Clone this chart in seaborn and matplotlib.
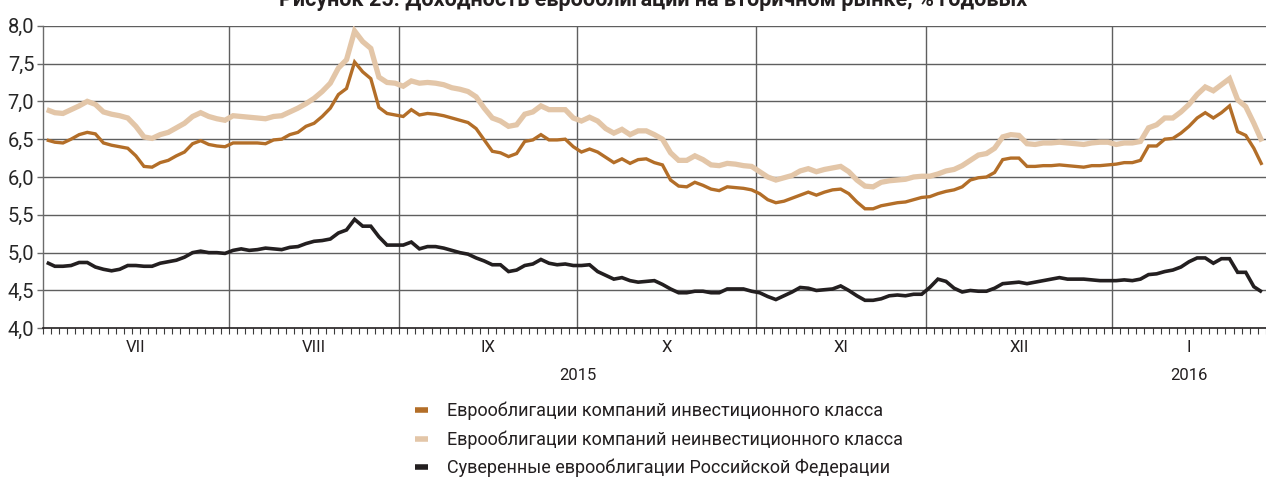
import numpy as np
import pandas as pd
import matplotlib
matplotlib.use("Agg")
import matplotlib.pyplot as plt
import matplotlib.transforms as mtransforms
from matplotlib import font_manager
import seaborn as sns

# ---------------- data ----------------
title = "Рисунок 25. Доходность еврооблигаций на вторичном рынке, % годовых"
series_names = [
    "Еврооблигации компаний инвестиционного класса",
    "Еврооблигации компаний неинвестиционного класса",
    "Суверенные еврооблигации Российской Федерации",
]
month_labels = ["VII", "VIII", "IX", "X", "XI", "XII", "I"]
month_days = [23, 21, 22, 22, 21, 23, 19]   # trading days shown per month
year_labels = ["2015", "2016"]
year_months = [6, 1]                          # number of months in each year group
ytick_values = [4.0, 4.5, 5.0, 5.5, 6.0, 6.5, 7.0, 7.5, 8.0]
ytick_labels = ["4,0", "4,5", "5,0", "5,5", "6,0", "6,5", "7,0", "7,5", "8,0"]

invest = [
    6.49, 6.46, 6.45, 6.50, 6.56, 6.59, 6.57, 6.45, 6.42, 6.40, 6.38, 6.28, 6.14, 6.13, 6.19, 6.22,
    6.28, 6.33, 6.44, 6.48, 6.43, 6.41, 6.40, 6.45, 6.45, 6.45, 6.45, 6.44, 6.49, 6.50, 6.56, 6.59,
    6.67, 6.71, 6.80, 6.91, 7.09, 7.17, 7.52, 7.39, 7.30, 6.92, 6.84, 6.82, 6.80, 6.89, 6.82,
    6.84, 6.83, 6.81, 6.78, 6.75, 6.72, 6.64, 6.49, 6.34, 6.32, 6.27, 6.31, 6.47, 6.49, 6.56, 6.49,
    6.49, 6.50, 6.40, 6.33, 6.37, 6.33, 6.26, 6.19, 6.24, 6.18, 6.23, 6.24, 6.19, 6.16, 5.96, 5.88,
    5.87, 5.93, 5.89, 5.84, 5.82, 5.87, 5.86, 5.85, 5.83, 5.78, 5.70, 5.66, 5.68, 5.72, 5.76,
    5.80, 5.76, 5.80, 5.83, 5.84, 5.78, 5.67, 5.58, 5.58, 5.62, 5.64, 5.66, 5.67, 5.70, 5.73, 5.74,
    5.78, 5.81, 5.83, 5.87, 5.96, 5.99, 6.00, 6.06, 6.23, 6.25, 6.25, 6.14, 6.14, 6.15, 6.15, 6.16,
    6.15, 6.14, 6.13, 6.15, 6.15, 6.16, 6.17, 6.19, 6.19, 6.22, 6.41, 6.41, 6.50, 6.51, 6.58, 6.67,
    6.78, 6.85, 6.78, 6.85, 6.94, 6.60, 6.55, 6.38, 6.16,
]
noninvest = [
    6.89, 6.85, 6.84, 6.89, 6.94, 7.00, 6.96, 6.86, 6.83, 6.81, 6.78, 6.67, 6.53, 6.51, 6.56, 6.59,
    6.65, 6.71, 6.80, 6.85, 6.80, 6.77, 6.75, 6.81, 6.80, 6.79, 6.78, 6.77, 6.80, 6.81, 6.86, 6.91,
    6.97, 7.04, 7.13, 7.24, 7.44, 7.55, 7.93, 7.79, 7.70, 7.32, 7.25, 7.24, 7.20, 7.27, 7.24,
    7.25, 7.24, 7.22, 7.18, 7.16, 7.13, 7.06, 6.91, 6.78, 6.74, 6.67, 6.69, 6.83, 6.86, 6.94, 6.89,
    6.89, 6.89, 6.78, 6.74, 6.79, 6.74, 6.64, 6.58, 6.63, 6.56, 6.61, 6.61, 6.56, 6.50, 6.32, 6.22,
    6.22, 6.28, 6.23, 6.16, 6.15, 6.18, 6.17, 6.15, 6.14, 6.07, 6.00, 5.96, 5.99, 6.02, 6.08,
    6.11, 6.07, 6.10, 6.12, 6.14, 6.07, 5.96, 5.88, 5.87, 5.93, 5.95, 5.96, 5.97, 6.00, 6.01, 6.01,
    6.04, 6.08, 6.10, 6.15, 6.22, 6.29, 6.31, 6.38, 6.53, 6.56, 6.55, 6.44, 6.43, 6.45, 6.45, 6.46,
    6.45, 6.44, 6.43, 6.45, 6.46, 6.46, 6.43, 6.45, 6.45, 6.47, 6.65, 6.69, 6.78, 6.78, 6.86, 6.96,
    7.09, 7.19, 7.14, 7.22, 7.30, 7.02, 6.93, 6.71, 6.47,
]
sovereign = [
    4.87, 4.82, 4.82, 4.83, 4.87, 4.87, 4.81, 4.78, 4.76, 4.78, 4.83, 4.83, 4.82, 4.82, 4.86, 4.88,
    4.90, 4.94, 5.00, 5.02, 5.00, 5.00, 4.99, 5.03, 5.05, 5.03, 5.04, 5.06, 5.05, 5.04, 5.07, 5.08,
    5.12, 5.15, 5.16, 5.18, 5.26, 5.30, 5.44, 5.35, 5.35, 5.21, 5.10, 5.10, 5.10, 5.14, 5.05,
    5.08, 5.08, 5.06, 5.03, 5.00, 4.98, 4.93, 4.89, 4.84, 4.84, 4.75, 4.77, 4.83, 4.85, 4.91, 4.86,
    4.84, 4.85, 4.83, 4.83, 4.84, 4.75, 4.70, 4.65, 4.67, 4.63, 4.61, 4.62, 4.63, 4.58, 4.52, 4.47,
    4.47, 4.49, 4.49, 4.47, 4.47, 4.52, 4.52, 4.52, 4.49, 4.47, 4.42, 4.38, 4.43, 4.48, 4.54,
    4.53, 4.50, 4.51, 4.52, 4.56, 4.50, 4.43, 4.37, 4.37, 4.39, 4.43, 4.44, 4.43, 4.45, 4.45, 4.54,
    4.65, 4.62, 4.53, 4.48, 4.50, 4.49, 4.49, 4.53, 4.59, 4.60, 4.61, 4.59, 4.61, 4.63, 4.65, 4.67,
    4.65, 4.65, 4.65, 4.64, 4.63, 4.63, 4.63, 4.64, 4.63, 4.65, 4.71, 4.72, 4.75, 4.77, 4.81, 4.88,
    4.93, 4.93, 4.86, 4.92, 4.92, 4.74, 4.74, 4.55, 4.48,
]

# ---------------- style ----------------
colors = ["#B36E28", "#E3C6A8", "#231F20"]
widths = [2.4, 3.8, 2.6]

sns.set_theme(style="white")
available = {f.name for f in font_manager.fontManager.ttflist}
main_font = "Liberation Sans Narrow" if "Liberation Sans Narrow" in available else "Roboto"
plt.rcParams["font.family"] = [main_font, "DejaVu Sans"]
plt.rcParams["text.color"] = "#231F20"

n = len(invest)
df = pd.DataFrame({
    "day": np.tile(np.arange(n), 3),
    "value": invest + noninvest + sovereign,
    "series": np.repeat(series_names, n),
})

fig = plt.figure(figsize=(12.66, 4.80), dpi=100)
ax = fig.add_axes([42.7 / 1266, 1 - 328.3 / 480, 1 - 42.7 / 1266, (328.3 - 25.7) / 480])

sns.lineplot(data=df, x="day", y="value", hue="series", hue_order=series_names,
             palette=colors, ax=ax, legend=False, zorder=3)
for line, lw in zip(ax.get_lines(), widths):
    line.set_linewidth(lw)
    line.set_solid_joinstyle("miter")
    line.set_solid_capstyle("butt")

# axes limits & grid
ax.set_xlim(-0.5, n - 0.5)
ax.set_ylim(4.0, 8.0)
ax.set_yticks(ytick_values)
ax.set_yticklabels(ytick_labels, fontsize=14.5)
ax.tick_params(axis="y", length=4, width=1, color="#6b6b6b", pad=2, left=True)
ax.grid(False)
for yv in ytick_values[1:]:
    ax.axhline(yv, color="#5f5f5f", lw=1.0, zorder=1)

bounds = np.concatenate([[0], np.cumsum(month_days)]) - 0.5
for b in bounds[1:-1]:
    ax.axvline(b, color="#5f5f5f", lw=1.0, zorder=1)

ax.set_xticks(np.arange(-0.5, n, 1.0), minor=True)
ax.set_xticks([])
ax.tick_params(axis="x", which="minor", length=4, width=0.8, color="#3a3a3a", direction="out", bottom=True)
ax.set_xlabel("")
ax.set_ylabel("")

for side in ["top", "right"]:
    ax.spines[side].set_visible(False)
ax.spines["left"].set_color("#6b6b6b")
ax.spines["left"].set_linewidth(1.0)
ax.spines["bottom"].set_color("#231F20")
ax.spines["bottom"].set_linewidth(1.2)

trans = mtransforms.blended_transform_factory(ax.transData, fig.transFigure)
centers = (bounds[:-1] + bounds[1:]) / 2
for c, lab in zip(centers, month_labels):
    ax.text(c, 1 - 348 / 480, lab, transform=trans, ha="center", va="center", fontsize=12)
start = 0
for ylab, cnt in zip(year_labels, year_months):
    lo, hi = bounds[start], bounds[start + cnt]
    ax.text((lo + hi) / 2, 1 - 375 / 480, ylab, transform=trans, ha="center", va="center", fontsize=12)
    start += cnt

# title (cut at the top as in the source)
fig.text(0.516, 1 - 6 / 480, title, ha="center", va="baseline", fontsize=15.5, fontweight="bold")

# legend
handles = [plt.Line2D([0], [0], color=c, lw=4, solid_capstyle="butt") for c in colors]
fig.legend(handles, series_names, loc="upper left", bbox_to_anchor=(415 / 1266, 1 - 402 / 480),
           frameon=False, fontsize=13, handlelength=0.7, handletextpad=1.05, labelspacing=0.55,
           borderaxespad=0, borderpad=0)

fig.savefig("out.png", dpi=100)
